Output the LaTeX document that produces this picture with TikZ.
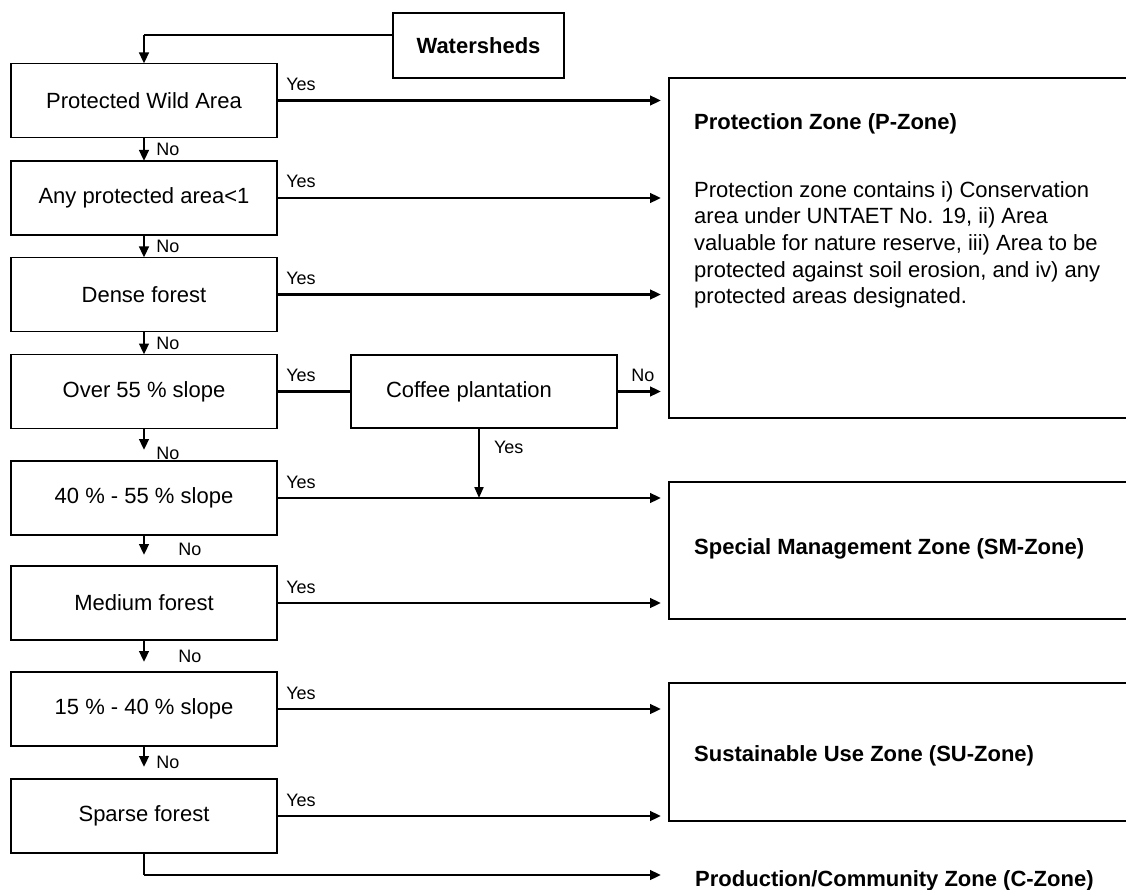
\documentclass[tikz,border=0pt]{standalone}
\usepackage{fontspec}
\setmainfont{Liberation Sans}
\usetikzlibrary{arrows.meta}
\begin{document}
\begin{tikzpicture}[x=1pt, y=-1pt,
  box/.style={draw, line width=1.2pt, inner sep=0pt, outer sep=0pt,
    minimum width=266pt, minimum height=74pt, font=\fontsize{22}{26}\selectfont},
  zone/.style={draw, line width=1.2pt, inner sep=0pt, outer sep=0pt, minimum width=471pt},
  title/.style={font=\bfseries\fontsize{22}{26}\selectfont, inner sep=0pt, anchor=base west},
  lbl/.style={font=\fontsize{18}{20}\selectfont, inner sep=0pt},
  yes/.style={lbl, anchor=base west, xshift=8pt, yshift=10pt},
  no/.style={lbl, anchor=west, xshift=11pt},
  link/.style={line width=2.7pt},
  thinlink/.style={line width=1.1pt},
  arr/.style={line width=2.7pt, -{Triangle[length=11pt,width=9.5pt]}},
  into/.style={arr, shorten >=8pt},
]
\useasboundingbox (0,0) rectangle (1126,890);
\clip (0,0) rectangle (1126,890);

% decision column
\node[box] (pwa)    at (144,100.5) {Protected Wild Area};
\node[box] (any)    at (144,198)   {Any protected area<1};
\node[box] (dense)  at (144,294.5) {Dense forest};
\node[box] (o55)    at (144,391.5) {Over 55 \% slope};
\node[box] (s4055)  at (144,498)   {40 \% - 55 \% slope};
\node[box] (med)    at (144,603)   {Medium forest};
\node[box] (s1540)  at (144,709)   {15 \% - 40 \% slope};
\node[box] (sparse) at (144,816)   {Sparse forest};

\node[box, minimum width=171pt, minimum height=65pt, font=\bfseries\fontsize{22}{26}\selectfont]
  (ws) at (478.5,45.5) {Watersheds};
\node[box, minimum height=73pt] (coffee) at (484,391.5) {Coffee plantation\hspace*{30pt}};

% zone boxes
\node[zone, minimum height=340pt] (pz)  at (904.5,248)   {};
\node[zone, minimum height=137pt] (smz) at (904.5,550.5) {};
\node[zone, minimum height=138pt] (suz) at (904.5,752)   {};

\node[title] (pzt) at (694,130) {Protection Zone (P-Zone)};
\node[font=\fontsize{22}{26.7}\selectfont, inner sep=0pt, anchor=north west, align=left]
  (pzb) at (694,181) {Protection zone contains i) Conservation\\
  area under UNTAET No. 19, ii) Area\\
  valuable for nature reserve, iii) Area to be\\
  protected against soil erosion, and iv) any\\
  protected areas designated.};
\node[title] (smt) at (694,554) {Special Management Zone (SM-Zone)};
\node[title] (sut) at (694,761) {Sustainable Use Zone (SU-Zone)};
\node[title] (czt) at (695,886) {Production/Community Zone (C-Zone)};

% entry
\coordinate (wsj) at (144,35);
\draw[thinlink] ([yshift=10.5pt]ws.west) -- (wsj);
\draw[arr] (wsj) -- (pwa.north);

% yes branches
\draw[into] (pwa.east) -- node[yes, pos=0] {Yes} (pwa.east -| pz.west);
\draw[into] (any.east) -- node[yes, pos=0] {Yes} (any.east -| pz.west);
\draw[into] (dense.east) -- node[yes, pos=0] {Yes} (dense.east -| pz.west);
\draw[link] (o55.east) -- node[yes, pos=0] {Yes} (coffee.west);
\draw[into] (coffee.east) -- node[yes, pos=0, xshift=5pt] {No} (coffee.east -| pz.west);
\draw[line width=2pt, -{Triangle[length=11pt,width=9pt]}]
  ([xshift=-5pt]coffee.south) -- node[lbl, anchor=west, pos=0.28, xshift=14pt] {Yes}
  ([xshift=-5pt]coffee.south |- s4055.east);
\draw[into] (s4055.east) -- node[yes, pos=0] {Yes} (s4055.east -| smz.west);
\draw[into] (med.east) -- node[yes, pos=0] {Yes} (med.east -| smz.west);
\draw[into] (s1540.east) -- node[yes, pos=0] {Yes} (s1540.east -| suz.west);
\draw[into] (sparse.east) -- node[yes, pos=0] {Yes} (sparse.east -| suz.west);

% no branches
\draw[arr] (pwa.south) -- node[no] {No} (any.north);
\draw[arr] (any.south) -- node[no] {No} (dense.north);
\draw[arr] (dense.south) -- node[no] {No} (o55.north);
\draw[arr] (o55.south) -- ([yshift=11pt]s4055.north) node[no, yshift=-3pt] {No};
\draw[arr] (s4055.south) -- ([yshift=11pt]med.north) node[no, xshift=22pt, yshift=6pt] {No};
\draw[arr] (med.south) -- ([yshift=10pt]s1540.north) node[no, xshift=22pt, yshift=6pt] {No};
\draw[arr] (s1540.south) -- ([yshift=12pt]sparse.north) node[no, yshift=5pt] {No};

% remaining land
\coordinate (cj) at (144,875);
\draw[thinlink] (sparse.south) -- (cj);
\draw[arr, shorten >=34pt] (cj) -- (cj -| czt.west);
\end{tikzpicture}
\end{document}
